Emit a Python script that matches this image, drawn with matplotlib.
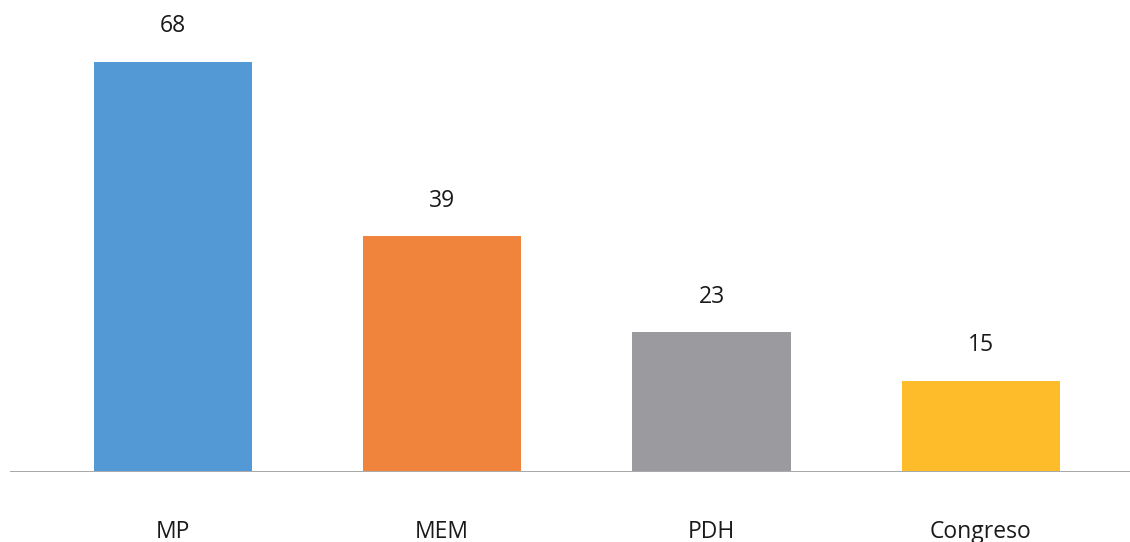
import matplotlib
matplotlib.use("Agg")
import matplotlib.pyplot as plt

categories = ["MP", "MEM", "PDH", "Congreso"]
values = [68, 39, 23, 15]
colors = ["#5399D5", "#F0843D", "#9B9B9F", "#FEBC2B"]

plt.rcParams["font.family"] = ["Open Sans", "DejaVu Sans"]

fig = plt.figure(figsize=(11.3, 5.42), dpi=100)
ax = fig.add_axes([10 / 1130, 70 / 542, 1120 / 1130, 472 / 542])

x = list(range(len(categories)))
ax.bar(x, values, width=0.587, color=colors, bottom=0.2)

# value labels above each bar
for xi, v in zip(x, values):
    ax.text(xi, v + 6.1, str(v), ha="center", va="center", fontsize=16.5, color="#1a1a1a")

ax.set_xlim(-0.605, 3.554)
ax.set_ylim(0, 78.47)
ax.axhline(0, color="#9a9a9a", linewidth=1.2)

ax.set_xticks(x)
ax.set_xticklabels(categories, fontsize=16.5, color="#1a1a1a")
ax.tick_params(axis="x", length=0, pad=34.5)
ax.set_yticks([])
for s in ax.spines.values():
    s.set_visible(False)

fig.savefig("out.png", dpi=100)
